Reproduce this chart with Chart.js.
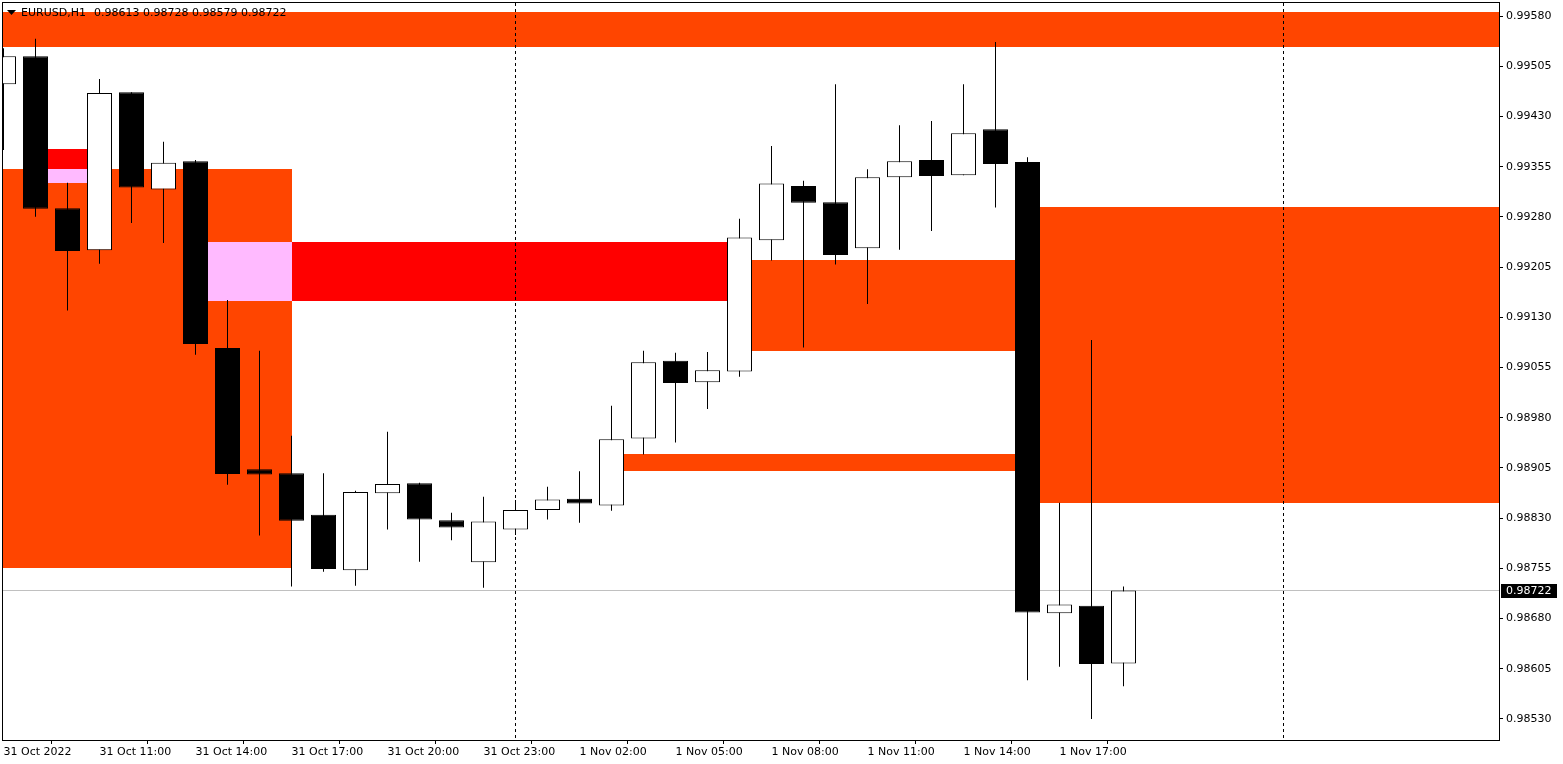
<!DOCTYPE html>
<html>
<head>
<meta charset="utf-8">
<title>EURUSD,H1</title>
<script src="https://cdn.jsdelivr.net/npm/chart.js@4.4.0/dist/chart.umd.min.js"></script>
<style>
    html, body { margin: 0; padding: 0; background: #ffffff; }
    #grafico-container { width: 1563px; height: 764px; position: relative; }
</style>
</head>
<body>
<div id="grafico-container"><canvas id="grafico-eurusd"></canvas></div>
<script>
// Velas EURUSD H1, a partir de 31 Oct 08:00 (índice 0)
const abertura = [
    0.99478, 0.99520, 0.99293, 0.99230, 0.99466, 0.99321, 0.99363, 0.99084, 0.98903, 0.98897,
    0.98835, 0.98752, 0.98867, 0.98882, 0.98827, 0.98764, 0.98813, 0.98842, 0.98859, 0.98849,
    0.98949, 0.99065, 0.99033, 0.99049, 0.99245, 0.99326, 0.99302, 0.99233, 0.99339, 0.99365,
    0.99342, 0.99411, 0.99362, 0.98688, 0.98699, 0.98613
];
const maxima = [
    0.99532, 0.99546, 0.99331, 0.99486, 0.99466, 0.99392, 0.99365, 0.99156, 0.99080, 0.98953,
    0.98897, 0.98871, 0.98959, 0.98883, 0.98838, 0.98862, 0.98857, 0.98877, 0.98900, 0.98998,
    0.99080, 0.99077, 0.99078, 0.99277, 0.99386, 0.99334, 0.99478, 0.99351, 0.99417, 0.99423,
    0.99478, 0.99541, 0.99369, 0.98853, 0.99096, 0.98728
];
const minima = [
    0.99380, 0.99280, 0.99140, 0.99210, 0.99271, 0.99241, 0.99074, 0.98880, 0.98804, 0.98728,
    0.98750, 0.98729, 0.98813, 0.98765, 0.98797, 0.98726, 0.98805, 0.98828, 0.98823, 0.98841,
    0.98925, 0.98943, 0.98993, 0.99041, 0.99215, 0.99085, 0.99209, 0.99150, 0.99231, 0.99259,
    0.99342, 0.99294, 0.98588, 0.98608, 0.98530, 0.98579
];
const fechamento = [
    0.99520, 0.99292, 0.99229, 0.99465, 0.99324, 0.99361, 0.99090, 0.98896, 0.98895, 0.98826,
    0.98754, 0.98869, 0.98881, 0.98828, 0.98816, 0.98825, 0.98842, 0.98858, 0.98852, 0.98948,
    0.99063, 0.99032, 0.99051, 0.99249, 0.99330, 0.99301, 0.99223, 0.99339, 0.99363, 0.99341,
    0.99405, 0.99359, 0.98689, 0.98701, 0.98612, 0.98722
];

// Rótulos do eixo de tempo (uma marca a cada 3 velas)
const indicesTempo = [0, 3, 6, 9, 12, 15, 18, 21, 24, 27, 30, 33];
const rotulosTempo = [
    '31 Oct 2022', '31 Oct 11:00', '31 Oct 14:00', '31 Oct 17:00', '31 Oct 20:00', '31 Oct 23:00',
    '1 Nov 02:00', '1 Nov 05:00', '1 Nov 08:00', '1 Nov 11:00', '1 Nov 14:00', '1 Nov 17:00'
];

// Marcas do eixo de preço
const precosEixo = [
    0.99580, 0.99505, 0.99430, 0.99355, 0.99280, 0.99205, 0.99130, 0.99055,
    0.98980, 0.98905, 0.98830, 0.98755, 0.98680, 0.98605, 0.98530
];

// Zonas (início e fim em índice de vela, topo e base em preço)
const zonasInicio = [-5, -5, 1, 6, 23, 19, 32];
const zonasFim    = [60, 9, 3, 23, 32, 32, 60];
const zonasTopo   = [0.99586, 0.99351, 0.99381, 0.99242, 0.99216, 0.98926, 0.99295];
const zonasBase   = [0.99533, 0.98756, 0.99331, 0.99155, 0.99079, 0.98901, 0.98853];
const zonasTipo   = ['oferta', 'oferta', 'nova', 'nova', 'oferta', 'oferta', 'oferta'];

// Separadores de dia (índice da vela 00:00)
const separadoresDia = [16, 40];

const simbolo = 'EURUSD,H1';

const FONTE = 'DejaVu Sans';
const coresZona = { oferta: '#FF4500', nova: '#FF0000' };

// Cor de sobreposição (como o MT4 desenha objetos de fundo)
function corXor(a, b) {
    const n = parseInt(a.slice(1), 16) ^ parseInt(b.slice(1), 16) ^ 0xFFFFFF;
    return '#' + n.toString(16).padStart(6, '0');
}

// Remove o espaço extra que o Chart.js reserva para os rótulos
function semPadding(scale) {
    scale.paddingTop = 0;
    scale.paddingBottom = 0;
    scale.paddingLeft = 0;
    scale.paddingRight = 0;
}

// Plugin para desenhar zonas, separadores e linha de preço atrás das velas
const pluginFundo = {
    id: 'fundo',
    beforeDatasetsDraw(chart) {
        const { ctx, chartArea, scales: { x, y } } = chart;
        ctx.save();
        ctx.beginPath();
        ctx.rect(chartArea.left, chartArea.top, chartArea.right - chartArea.left, chartArea.bottom - chartArea.top);
        ctx.clip();

        const retangulos = zonasInicio.map((ini, i) => ({
            x0: Math.round(x.getPixelForValue(ini)),
            x1: Math.round(x.getPixelForValue(zonasFim[i])),
            y0: Math.round(y.getPixelForValue(zonasTopo[i])),
            y1: Math.round(y.getPixelForValue(zonasBase[i])),
            cor: coresZona[zonasTipo[i]]
        }));
        retangulos.forEach(r => {
            ctx.fillStyle = r.cor;
            ctx.fillRect(r.x0, r.y0, r.x1 - r.x0, r.y1 - r.y0);
        });
        // Sobreposições
        for (let i = 0; i < retangulos.length; i++) {
            for (let j = i + 1; j < retangulos.length; j++) {
                const a = retangulos[i], b = retangulos[j];
                const x0 = Math.max(a.x0, b.x0), x1 = Math.min(a.x1, b.x1);
                const y0 = Math.max(a.y0, b.y0), y1 = Math.min(a.y1, b.y1);
                if (x1 > x0 && y1 > y0) {
                    ctx.fillStyle = corXor(a.cor, b.cor);
                    ctx.fillRect(x0, y0, x1 - x0, y1 - y0);
                }
            }
        }

        // Separadores de dia
        ctx.strokeStyle = '#000000';
        ctx.lineWidth = 1;
        ctx.setLineDash([3, 3]);
        separadoresDia.forEach(idx => {
            const px = Math.round(x.getPixelForValue(idx) - 0.5) + 0.5;
            ctx.beginPath();
            ctx.moveTo(px, chartArea.top);
            ctx.lineTo(px, chartArea.bottom);
            ctx.stroke();
        });
        ctx.setLineDash([]);

        // Linha do preço atual (bid)
        const bid = fechamento[fechamento.length - 1];
        const py = Math.round(y.getPixelForValue(bid)) + 0.5;
        ctx.strokeStyle = '#C0C0C0';
        ctx.beginPath();
        ctx.moveTo(chartArea.left, py);
        ctx.lineTo(chartArea.right, py);
        ctx.stroke();
        ctx.restore();
    },
    afterDraw(chart) {
        const { ctx, chartArea, scales: { y } } = chart;
        ctx.save();
        // Moldura
        ctx.strokeStyle = '#000000';
        ctx.lineWidth = 1;
        ctx.strokeRect(chartArea.left - 0.5, chartArea.top - 0.5,
            chartArea.right - chartArea.left + 1, chartArea.bottom - chartArea.top + 1);

        // Título com OHLC da última vela
        const n = fechamento.length - 1;
        ctx.fillStyle = '#000000';
        ctx.beginPath();
        ctx.moveTo(7, 10);
        ctx.lineTo(16, 10);
        ctx.lineTo(11.5, 15);
        ctx.closePath();
        ctx.fill();
        ctx.font = '11px "' + FONTE + '"';
        ctx.textBaseline = 'middle';
        ctx.textAlign = 'left';
        ctx.fillText(simbolo, 21, 13);
        const ohlc = [abertura[n], maxima[n], minima[n], fechamento[n]].map(v => v.toFixed(5)).join(' ');
        ctx.fillText(ohlc, 94, 13);

        // Etiqueta do preço atual
        const bid = fechamento[n];
        const py = Math.round(y.getPixelForValue(bid)) + 0.5;
        ctx.fillStyle = '#000000';
        ctx.fillRect(chartArea.right + 2, Math.round(py) - 7, 56, 14);
        ctx.fillStyle = '#FFFFFF';
        ctx.fillText(bid.toFixed(5), chartArea.right + 7, Math.round(py));
        ctx.restore();
    }
};

// Montar dados das velas
const velas = abertura.map((o, i) => ({ i, o, h: maxima[i], l: minima[i], c: fechamento[i] }));

const ctxGrafico = document.getElementById('grafico-eurusd');
window.graficoVelas = new Chart(ctxGrafico, {
    type: 'bar',
    data: {
        datasets: [{
            label: 'corpos',
            data: velas.map(v => ({ x: v.i, y: [Math.min(v.o, v.c), Math.max(v.o, v.c)] })),
            backgroundColor: velas.map(v => v.c >= v.o ? '#FFFFFF' : '#000000'),
            borderColor: '#000000',
            borderWidth: 1,
            borderSkipped: false,
            barThickness: 25,
            grouped: false,
            inflateAmount: 0,
            clip: 0,
            order: 1
        }, {
            label: 'sombras',
            data: velas.map(v => ({ x: v.i, y: [v.l, v.h] })),
            backgroundColor: '#000000',
            borderWidth: 0,
            barThickness: 1,
            grouped: false,
            inflateAmount: 0,
            clip: 0,
            order: 2
        }]
    },
    options: {
        responsive: true,
        maintainAspectRatio: false,
        animation: false,
        devicePixelRatio: 1,
        layout: { padding: { left: 3, top: 3, right: 0, bottom: 0 } },
        plugins: {
            legend: { display: false },
            tooltip: { enabled: false }
        },
        scales: {
            x: {
                type: 'linear',
                min: -0.015625,
                max: 46.734375,
                bounds: 'data',
                offset: false,
                afterBuildTicks: scale => { scale.ticks = indicesTempo.map(v => ({ value: v })); },
                afterFit: scale => { scale.height = 24; semPadding(scale); },
                ticks: {
                    autoSkip: false,
                    maxRotation: 0,
                    align: 'start',
                    padding: 2,
                    color: '#000000',
                    font: { family: FONTE, size: 11 },
                    callback: v => rotulosTempo[indicesTempo.indexOf(v)]
                },
                grid: { drawOnChartArea: false, drawTicks: true, tickLength: 4, color: '#000000' },
                border: { display: true, color: '#000000' }
            },
            y: {
                position: 'right',
                min: 0.9849863,
                max: 0.9959942,
                afterBuildTicks: scale => { scale.ticks = precosEixo.map(v => ({ value: v })); },
                afterFit: scale => { scale.width = 64; semPadding(scale); },
                ticks: {
                    crossAlign: 'near',
                    padding: 3,
                    color: '#000000',
                    font: { family: FONTE, size: 11 },
                    callback: v => v.toFixed(5)
                },
                grid: { drawOnChartArea: false, drawTicks: true, tickLength: 4, color: '#000000' },
                border: { display: true, color: '#000000' }
            }
        }
    },
    plugins: [pluginFundo]
});
</script>
</body>
</html>
